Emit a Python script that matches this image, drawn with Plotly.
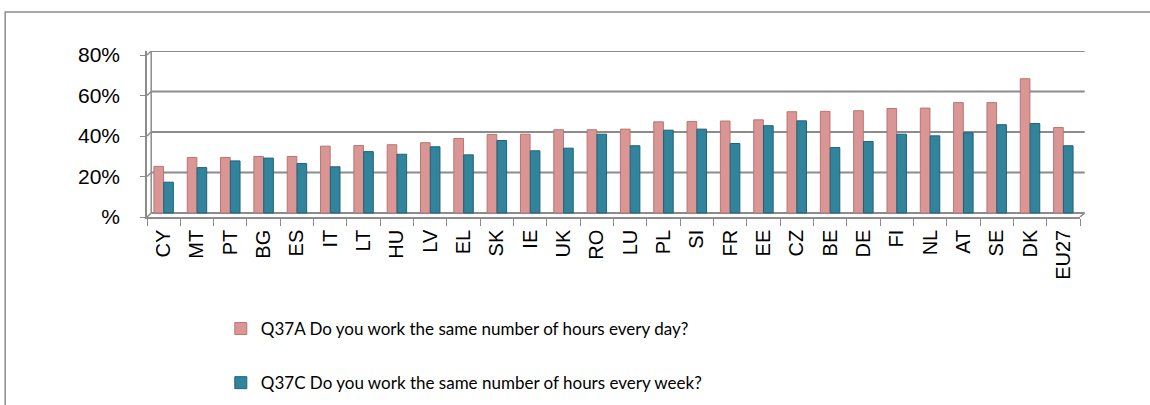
"""
Working-time regularity by country (EWCS style)
Clustered columns: same hours every day vs. same hours every week.
"""

import plotly.graph_objects as go

countries = ["CY", "MT", "PT", "BG", "ES", "IT", "LT", "HU", "LV", "EL",
             "SK", "IE", "UK", "RO", "LU", "PL", "SI", "FR", "EE", "CZ",
             "BE", "DE", "FI", "NL", "AT", "SE", "DK", "EU27"]

same_hours_day = [23, 27.4, 27.4, 27.9, 27.9, 33.0, 33.3, 33.7, 34.7, 36.8,
                  38.8, 38.9, 41.1, 41.1, 41.4, 45.0, 45.2, 45.4, 46.0, 50.0,
                  50.2, 50.5, 51.6, 51.8, 54.5, 54.5, 66.3, 42.2]

same_hours_week = [15.2, 22.4, 25.7, 27.1, 24.4, 22.8, 30.3, 29.0, 32.7, 28.7,
                   35.8, 30.7, 32.0, 38.9, 33.2, 40.9, 41.4, 34.3, 43.1, 45.5,
                   32.3, 35.3, 38.9, 38.1, 39.6, 43.6, 44.2, 33.2]

y_tickvals = [0, 20, 40, 60, 80]
y_ticktext = ["%", "20%", "40%", "60%", "80%"]

label_day = "Q37A Do you work the same number of hours every day?"
label_week = "Q37C Do you work the same number of hours every week?"

PINK = "#DA9694"
BLUE = "#31849B"
GRID = "#8C8C8C"

# fake 3D look: front axis sits a bit below/left of the back wall
DEPTH = 2.0      # in y units
WALL_X = 0.0045  # in paper units

fig = go.Figure()
fig.add_trace(go.Bar(
    x=countries, y=same_hours_day, name=label_day, legendgroup="a",
    marker=dict(color=PINK, line=dict(color="#B97572", width=1)),
))
fig.add_trace(go.Bar(
    x=countries, y=same_hours_week, name=label_week, legendgroup="b",
    marker=dict(color=BLUE, line=dict(color="#21637A", width=1)),
))

# back wall gridlines + little slanted joints to the front axis
for v in y_tickvals:
    fig.add_shape(type="line", xref="paper", yref="y", layer="below",
                  x0=WALL_X, x1=1.005, y0=v, y1=v,
                  line=dict(color=GRID, width=2))
    fig.add_shape(type="line", xref="paper", yref="y", layer="below",
                  x0=0, x1=WALL_X, y0=v - DEPTH, y1=v,
                  line=dict(color=GRID, width=1.5))
fig.add_shape(type="line", xref="paper", yref="y", layer="below",
              x0=WALL_X, x1=WALL_X, y0=0, y1=y_tickvals[-1],
              line=dict(color=GRID, width=1.5))
fig.add_shape(type="line", xref="paper", yref="y", layer="below",
              x0=1, x1=1.005, y0=-DEPTH, y1=0,
              line=dict(color=GRID, width=1.5))

# outer chart frame (runs off the right and bottom of the page)
fig.add_shape(type="rect", xref="paper", yref="paper",
              x0=-0.152, x1=1.2, y0=-1.4, y1=1.235,
              line=dict(color="#8C8C8C", width=1.5), fillcolor="rgba(0,0,0,0)")

fig.update_layout(
    width=1150, height=405,
    paper_bgcolor="white", plot_bgcolor="white",
    font=dict(family="Liberation Sans", size=18, color="black"),
    margin=dict(l=147, r=70, t=51, b=188, autoexpand=False),
    barmode="group", bargap=0.41, bargroupgap=0.02,
    showlegend=True,
    legend=dict(
        xref="container", yref="container", x=0.192, y=1 - 311 / 405,
        xanchor="left", yanchor="top",
        font=dict(family="Lato", size=17),
        tracegroupgap=29, itemwidth=30,
    ),
    xaxis=dict(
        type="category", tickangle=-90, tickson="boundaries",
        ticks="outside", ticklen=7, tickcolor=GRID,
        showline=True, linecolor=GRID, linewidth=1.5,
        tickfont=dict(family="Liberation Sans", size=20), ticklabelstandoff=3,
    ),
    yaxis=dict(
        range=[-DEPTH, 80], tickvals=[v - DEPTH for v in y_tickvals],
        ticktext=y_ticktext,
        ticks="outside", ticklen=5, tickcolor=GRID,
        showline=True, linecolor=GRID, linewidth=1.5,
        showgrid=False, zeroline=False,
        tickfont=dict(size=21), ticklabelstandoff=16,
    ),
)

# page body has an 8px default margin; drop it so the figure sits at (0, 0)
fig.write_html("out.html", config={"displayModeBar": False},
               post_script="document.body.style.margin='0';")
